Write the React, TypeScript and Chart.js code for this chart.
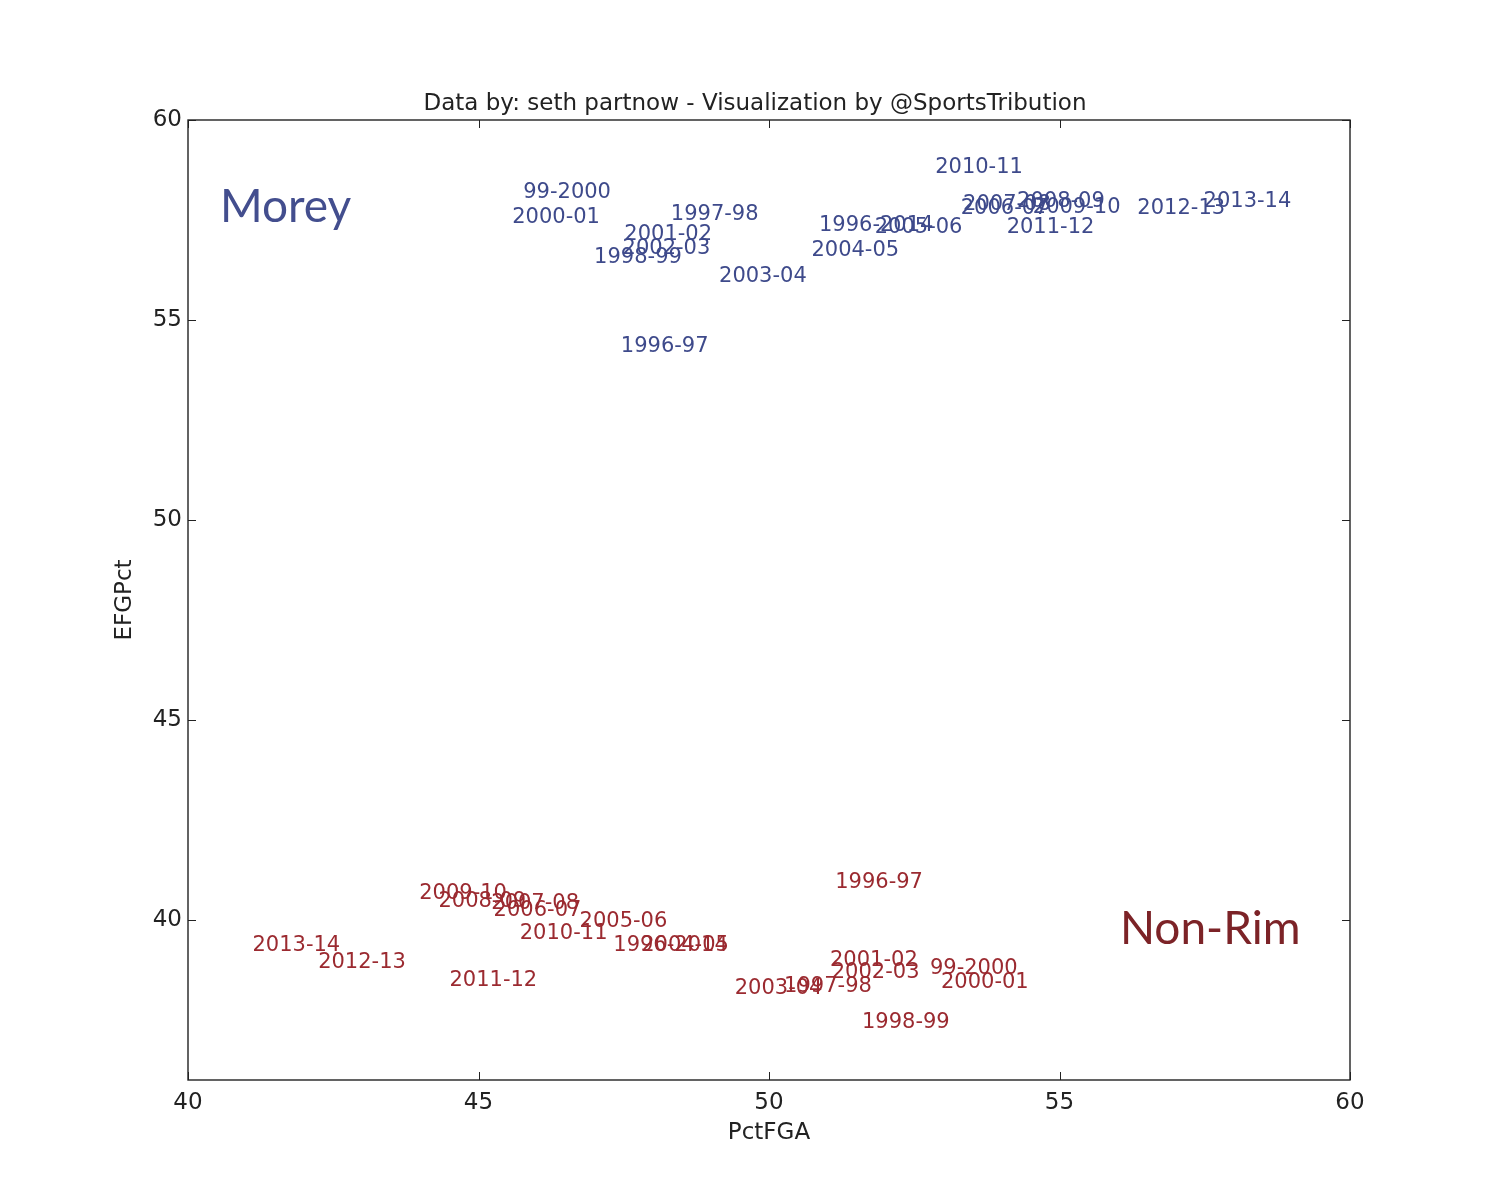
import { useEffect, useRef } from "react";
import { Chart, registerables } from "chart.js";

Chart.register(...registerables);

// season labels, same order for both groups
const SEASONS = [
  "1996-97", "1997-98", "1998-99", "99-2000", "2000-01", "2001-02", "2002-03",
  "2003-04", "2004-05", "2005-06", "2006-07", "2007-08", "2008-09", "2009-10",
  "2010-11", "2011-12", "2012-13", "2013-14", "1996-2014",
];

const MOREY_PCT_FGA = [
  47.45, 48.31, 46.99, 45.77, 45.58, 47.51, 47.48, 49.14, 50.73, 51.82,
  53.3, 53.34, 54.27, 54.54, 52.86, 54.09, 56.34, 57.48, 50.86,
];
const MOREY_EFG = [
  54.19, 57.5, 56.43, 58.05, 57.43, 57.01, 56.66, 55.94, 56.6, 57.17,
  57.65, 57.75, 57.82, 57.67, 58.67, 57.17, 57.66, 57.83, 57.22,
];

const NONRIM_PCT_FGA = [
  51.14, 50.26, 51.6, 52.77, 52.96, 51.05, 51.08, 49.41, 47.8, 46.74,
  45.26, 45.22, 44.31, 43.98, 45.71, 44.5, 42.24, 41.11, 47.32,
];
const NONRIM_EFG = [
  40.79, 38.19, 37.31, 38.66, 38.29, 38.86, 38.56, 38.14, 39.23, 39.82,
  40.1, 40.27, 40.32, 40.53, 39.52, 38.35, 38.81, 39.22, 39.23,
];

const X_TICKS = [40, 45, 50, 55, 60];
const Y_TICKS = [40, 45, 50, 55, 60];

const GROUP_NAMES = ["Morey", "Non-Rim"];
// where the big group names sit, in data units (left edge, baseline)
const GROUP_ANCHORS = [
  { x: 40.55, y: 57.45 },
  { x: 56.04, y: 39.4 },
];

const TITLE = "Data by: seth partnow - Visualization by @SportsTribution";

const BLUE = "#3e4a8b";
const RED = "#9b2a30";
const GROUP_COLORS = ["#434e8e", "#7c2327"];
const INK = "#222222";
const DV = "'DejaVu Sans', sans-serif";

const toPoints = (xs: number[], ys: number[]) => xs.map((x, i) => ({ x, y: ys[i] }));

const textLabels = {
  id: "textLabels",
  afterDatasetsDraw(chart: any) {
    const { ctx } = chart;
    const xs = chart.scales.x;
    const ys = chart.scales.y;

    ctx.save();
    ctx.textAlign = "left";
    ctx.textBaseline = "alphabetic";
    ctx.font = `21px ${DV}`;
    chart.data.datasets.forEach((ds: any) => {
      ctx.fillStyle = ds.textColor;
      ds.data.forEach((p: any, i: number) => {
        ctx.fillText(SEASONS[i], xs.getPixelForValue(p.x), ys.getPixelForValue(p.y));
      });
    });

    ctx.font = "46px Lato, 'Open Sans', sans-serif";
    GROUP_NAMES.forEach((name, i) => {
      ctx.fillStyle = GROUP_COLORS[i];
      const a = GROUP_ANCHORS[i];
      ctx.fillText(name, xs.getPixelForValue(a.x), ys.getPixelForValue(a.y));
    });
    ctx.restore();
  },
};

// matplotlib style box with inward ticks on all four sides, plus the title
const frame = {
  id: "frame",
  afterDraw(chart: any) {
    const { ctx, chartArea: a } = chart;
    const xs = chart.scales.x;
    const ys = chart.scales.y;
    const len = 8;

    ctx.save();
    ctx.strokeStyle = INK;
    ctx.lineWidth = 1;
    ctx.beginPath();
    X_TICKS.forEach((v) => {
      const px = Math.round(xs.getPixelForValue(v)) + 0.5;
      ctx.moveTo(px, a.bottom);
      ctx.lineTo(px, a.bottom - len);
      ctx.moveTo(px, a.top);
      ctx.lineTo(px, a.top + len);
    });
    Y_TICKS.forEach((v) => {
      const py = Math.round(ys.getPixelForValue(v)) + 0.5;
      ctx.moveTo(a.left, py);
      ctx.lineTo(a.left + len, py);
      ctx.moveTo(a.right, py);
      ctx.lineTo(a.right - len, py);
    });
    ctx.stroke();

    ctx.lineWidth = 1.4;
    ctx.strokeRect(a.left, a.top, a.right - a.left, a.bottom - a.top);

    ctx.fillStyle = INK;
    ctx.font = `23px ${DV}`;
    ctx.textAlign = "center";
    ctx.textBaseline = "alphabetic";
    ctx.fillText(TITLE, (a.left + a.right) / 2 - 14, a.top - 10);
    ctx.restore();
  },
};

export default function App() {
  const canvasRef = useRef<HTMLCanvasElement>(null);

  useEffect(() => {
    if (!canvasRef.current) return;

    const axisFont = { family: DV, size: 23 };

    const chart = new Chart(canvasRef.current, {
      type: "scatter",
      data: {
        datasets: [
          {
            label: "Morey",
            data: toPoints(MOREY_PCT_FGA, MOREY_EFG),
            pointRadius: 0,
            pointHoverRadius: 0,
            textColor: BLUE,
          } as any,
          {
            label: "Non-Rim",
            data: toPoints(NONRIM_PCT_FGA, NONRIM_EFG),
            pointRadius: 0,
            pointHoverRadius: 0,
            textColor: RED,
          } as any,
        ],
      },
      options: {
        responsive: false,
        devicePixelRatio: 1,
        animation: false,
        events: [],
        layout: {
          padding: { top: 120, right: 150, bottom: 0, left: 0 },
        },
        plugins: {
          legend: { display: false },
          tooltip: { enabled: false },
          title: { display: false },
        },
        scales: {
          x: {
            type: "linear",
            min: 40,
            max: 60,
            afterBuildTicks: (s: any) => {
              s.ticks = X_TICKS.map((value) => ({ value }));
            },
            afterFit: (s: any) => {
              s.height = 120;
            },
            grid: { display: false, drawTicks: false },
            border: { display: false },
            ticks: { color: INK, font: axisFont, padding: 9, maxRotation: 0 },
            title: {
              display: true,
              text: "PctFGA",
              color: INK,
              font: axisFont,
              padding: { top: 0, bottom: 53 },
            },
          },
          y: {
            type: "linear",
            min: 36,
            max: 60,
            afterBuildTicks: (s: any) => {
              s.ticks = Y_TICKS.map((value) => ({ value }));
            },
            afterFit: (s: any) => {
              s.width = 188;
            },
            grid: { display: false, drawTicks: false },
            border: { display: false },
            ticks: { color: INK, font: axisFont, padding: 6 },
            title: {
              display: true,
              text: "EFGPct",
              color: INK,
              font: axisFont,
              padding: { top: 111, bottom: 0 },
            },
          },
        },
      },
      plugins: [textLabels, frame],
    });

    return () => {
      chart.destroy();
    };
  }, []);

  return (
    <div style={{ position: "absolute", left: 0, top: 0, background: "#fff" }}>
      <canvas ref={canvasRef} width={1500} height={1200} />
    </div>
  );
}
